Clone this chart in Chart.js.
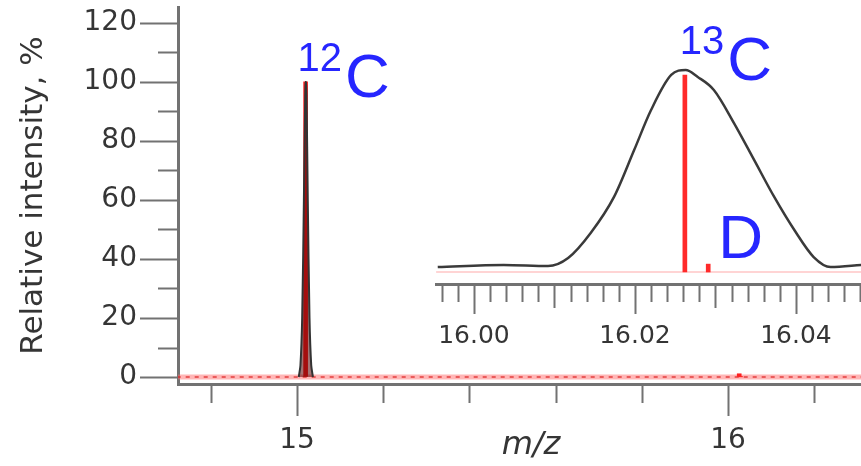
<!DOCTYPE html>
<html>
<head>
<meta charset="utf-8">
<script src="https://cdn.jsdelivr.net/npm/chart.js@4.4.0/dist/chart.umd.min.js"></script>
<style>
  body { margin: 0; background: #fff; }
  #wrap { position: relative; width: 861px; height: 466px; overflow: hidden; background: #fff; }
  #main { position: absolute; left: 0; top: 0; }
  #inset { position: absolute; left: 435px; top: 0; }
</style>
</head>
<body>
<div id="wrap">
  <canvas id="main" width="884" height="466"></canvas>
  <canvas id="inset" width="426" height="350"></canvas>
</div>
<script>
// --- main spectrum (m/z vs relative intensity, %) ---
const stickMz = [15.020, 16.026, 16.029];
const stickInt = [100, 1.1, 0.05];
const peak12Mz = [15.004, 15.008, 15.012, 15.016, 15.019, 15.0205, 15.022, 15.025, 15.029, 15.033, 15.037];
const peak12Int = [0, 4, 20, 60, 95, 100, 96, 60, 20, 4, 0];
const baselineMz = [14.70, 16.40];
const mainXTicks = [14.8, 15.0, 15.2, 15.4, 15.6, 15.8, 16.0, 16.2];
const mainXLabels = [15, 16];
const mainYTicks = [0, 10, 20, 30, 40, 50, 60, 70, 80, 90, 100, 110, 120];
const mainYLabels = [0, 20, 40, 60, 80, 100, 120];

// --- inset: zoom around m/z 16.02 ---
const insetStickMz = [16.0262, 16.0291];
const insetStickInt = [100, 4];
const insetProfileMz = [15.9955, 16.0037, 16.0092, 16.0117, 16.0145, 16.0174, 16.0199, 16.0220, 16.0245, 16.0263,
                        16.0278, 16.0298, 16.0323, 16.0348, 16.0373, 16.0398, 16.0422, 16.0443, 16.0482];
const insetProfileInt = [2.5, 3.6, 3.0, 7.1, 19.8, 38.1, 61.9, 82.2, 100, 102.5,
                         99, 92.4, 75.6, 56.9, 38.1, 21.3, 7.6, 2.5, 3.6];
const insetBaselineMz = [15.9953, 16.0490];
const insetTickStep = 0.002;
const insetXLabels = ['16.00', '16.02', '16.04'];

const axisGrey = '#727272';
const textGrey = '#353535';
const labelBlue = '#2626ff';

const pts = (xs, ys) => xs.map((x, i) => ({ x: x, y: ys[i] }));
const near = (a, list) => list.some(v => Math.abs(v - a) < 1e-6);

// draws tick marks of varying length (Chart.js only has one length)
function tickMarks(axisId, lengthOf) {
    return {
        id: 'ticks_' + axisId,
        afterDraw(chart) {
            const s = chart.scales[axisId];
            const ctx = chart.ctx;
            ctx.save();
            ctx.strokeStyle = axisGrey;
            ctx.lineWidth = 2;
            ctx.beginPath();
            s.ticks.forEach(t => {
                const len = lengthOf(t.value);
                const p = Math.round(s.getPixelForValue(t.value)) + 0.5;
                if (s.isHorizontal()) {
                    ctx.moveTo(p, s.top);
                    ctx.lineTo(p, s.top + len);
                } else {
                    ctx.moveTo(s.right - len, p);
                    ctx.lineTo(s.right, p);
                }
            });
            ctx.stroke();
            ctx.restore();
        }
    };
}

// blue isotope labels anchored on the stick tops
function isotopeLabels(items) {
    return {
        id: 'isotopeLabels',
        afterDatasetsDraw(chart) {
            const { ctx, scales: { x, y } } = chart;
            ctx.save();
            ctx.fillStyle = labelBlue;
            ctx.textBaseline = 'alphabetic';
            items.forEach(it => {
                const px = x.getPixelForValue(it.mz) + it.dx;
                const py = y.getPixelForValue(it.int) + it.dy;
                let cx = px;
                if (it.sup) {
                    ctx.font = '40px "Liberation Sans", Arial, sans-serif';
                    ctx.fillText(it.sup, px, py - 26);
                    cx += ctx.measureText(it.sup).width + 3;
                }
                ctx.font = '62px "Liberation Sans", Arial, sans-serif';
                ctx.fillText(it.text, cx, py);
            });
            ctx.restore();
        }
    };
}

function fixSize(prop, size) {
    return function (scale) {
        scale[prop] = size;
        scale.paddingLeft = 0;
        scale.paddingRight = 0;
        scale.paddingTop = 0;
        scale.paddingBottom = 0;
    };
}

// ---------- main chart ----------
new Chart(document.getElementById('main'), {
    type: 'line',
    data: {
        datasets: [
            {
                data: pts(baselineMz, [0, 0]),
                borderColor: 'rgba(255,110,110,0.5)',
                borderWidth: 5,
                pointRadius: 0,
                order: 5
            },
            {
                data: pts(baselineMz, [0, 0]),
                borderColor: 'rgba(220,30,30,0.6)',
                borderWidth: 2,
                borderDash: [4, 5],
                pointRadius: 0,
                order: 4
            },
            {
                type: 'bar',
                data: pts(stickMz, stickInt),
                backgroundColor: '#ff2020',
                barThickness: 4,
                grouped: false,
                order: 2
            },
            {
                data: pts(peak12Mz, peak12Int),
                borderColor: '#333',
                borderWidth: 2,
                fill: 'origin',
                backgroundColor: 'rgba(90,0,0,0.55)',
                tension: 0.3,
                pointRadius: 0,
                order: 1
            }
        ]
    },
    options: {
        responsive: false,
        animation: false,
        layout: { padding: { top: 7, left: 0, right: 0, bottom: 0 } },
        plugins: { legend: { display: false }, tooltip: { enabled: false } },
        scales: {
            x: {
                type: 'linear',
                offset: false,
                min: 14.7239,
                max: 16.3619,
                afterBuildTicks: s => { s.ticks = mainXTicks.map(v => ({ value: v })); },
                afterFit: fixSize('height', 82),
                border: { display: true, color: axisGrey, width: 3 },
                grid: { display: true, offset: false, drawOnChartArea: false, drawTicks: true, tickLength: 32, tickColor: 'rgba(0,0,0,0)' },
                ticks: {
                    autoSkip: false,
                    maxRotation: 0,
                    padding: 8,
                    color: textGrey,
                    font: { family: 'DejaVu Sans', size: 28 },
                    callback: v => near(v, mainXLabels) ? String(Math.round(v)) : ''
                },
                title: {
                    display: true,
                    text: 'm/z',
                    color: textGrey,
                    font: { family: 'DejaVu Sans', size: 32, style: 'italic' },
                    padding: { top: 0, bottom: 1 }
                }
            },
            y: {
                min: -2.37,
                max: 125.4,
                afterBuildTicks: s => { s.ticks = mainYTicks.map(v => ({ value: v })); },
                afterFit: fixSize('width', 178),
                border: { display: true, color: axisGrey, width: 3 },
                grid: { display: true, drawOnChartArea: false, drawTicks: true, tickLength: 38, tickColor: 'rgba(0,0,0,0)' },
                ticks: {
                    autoSkip: false,
                    padding: 3,
                    color: textGrey,
                    font: { family: 'DejaVu Sans', size: 28 },
                    callback: v => near(v, mainYLabels) ? String(v) : ''
                },
                title: {
                    display: true,
                    text: 'Relative intensity, %',
                    color: textGrey,
                    font: { family: 'DejaVu Sans', size: 31 },
                    padding: { top: 15, bottom: 0 }
                }
            }
        }
    },
    plugins: [
        tickMarks('x', v => near(v, mainXLabels) ? 32 : 19),
        tickMarks('y', v => near(v, mainYLabels) ? 38 : 20),
        isotopeLabels([
            { mz: stickMz[0], int: stickInt[0], sup: '12', text: 'C', dx: -8, dy: 15 }
        ])
    ]
});

// ---------- inset ----------
new Chart(document.getElementById('inset'), {
    type: 'line',
    data: {
        datasets: [
            {
                data: pts(insetBaselineMz, [0, 0]),
                borderColor: 'rgba(255,90,90,0.35)',
                borderWidth: 1.5,
                pointRadius: 0,
                order: 5
            },
            {
                type: 'bar',
                data: pts(insetStickMz, insetStickInt),
                backgroundColor: '#ff2a2a',
                barThickness: 4,
                grouped: false,
                order: 2
            },
            {
                data: pts(insetProfileMz, insetProfileInt),
                borderColor: '#3a3a3a',
                borderWidth: 2.5,
                cubicInterpolationMode: 'monotone',
                pointRadius: 0,
                order: 1
            }
        ]
    },
    options: {
        responsive: false,
        animation: false,
        layout: { padding: { top: 20, left: 0, right: 0, bottom: 0 } },
        plugins: { legend: { display: false }, tooltip: { enabled: false } },
        scales: {
            x: {
                type: 'linear',
                offset: false,
                min: 15.99516,
                max: 16.04808,
                afterBuildTicks: s => {
                    const t = [];
                    for (let v = 15.996; v < 16.0485; v += insetTickStep) t.push({ value: Math.round(v * 1000) / 1000 });
                    s.ticks = t;
                },
                afterFit: fixSize('height', 66),
                border: { display: true, color: axisGrey, width: 3 },
                grid: { display: true, offset: false, drawOnChartArea: false, drawTicks: true, tickLength: 30, tickColor: 'rgba(0,0,0,0)' },
                ticks: {
                    autoSkip: false,
                    maxRotation: 0,
                    padding: 7,
                    color: textGrey,
                    font: { family: 'DejaVu Sans', size: 25 },
                    callback: v => insetXLabels.includes(v.toFixed(2)) && Math.abs(v - Number(v.toFixed(2))) < 1e-6 ? v.toFixed(2) : ''
                }
            },
            y: { display: false, min: -6.09, max: 127.9 }
        }
    },
    plugins: [
        tickMarks('x', v => {
            const m = Math.round(v * 1000);
            return m % 20 === 0 ? 30 : (m % 10 === 0 ? 24 : 18);
        }),
        isotopeLabels([
            { mz: insetStickMz[0], int: insetStickInt[0], sup: '13', text: 'C', dx: -5, dy: 5 },
            { mz: insetStickMz[1], int: insetStickInt[1], sup: '', text: 'D', dx: 10, dy: -6 }
        ])
    ]
});
</script>
</body>
</html>
